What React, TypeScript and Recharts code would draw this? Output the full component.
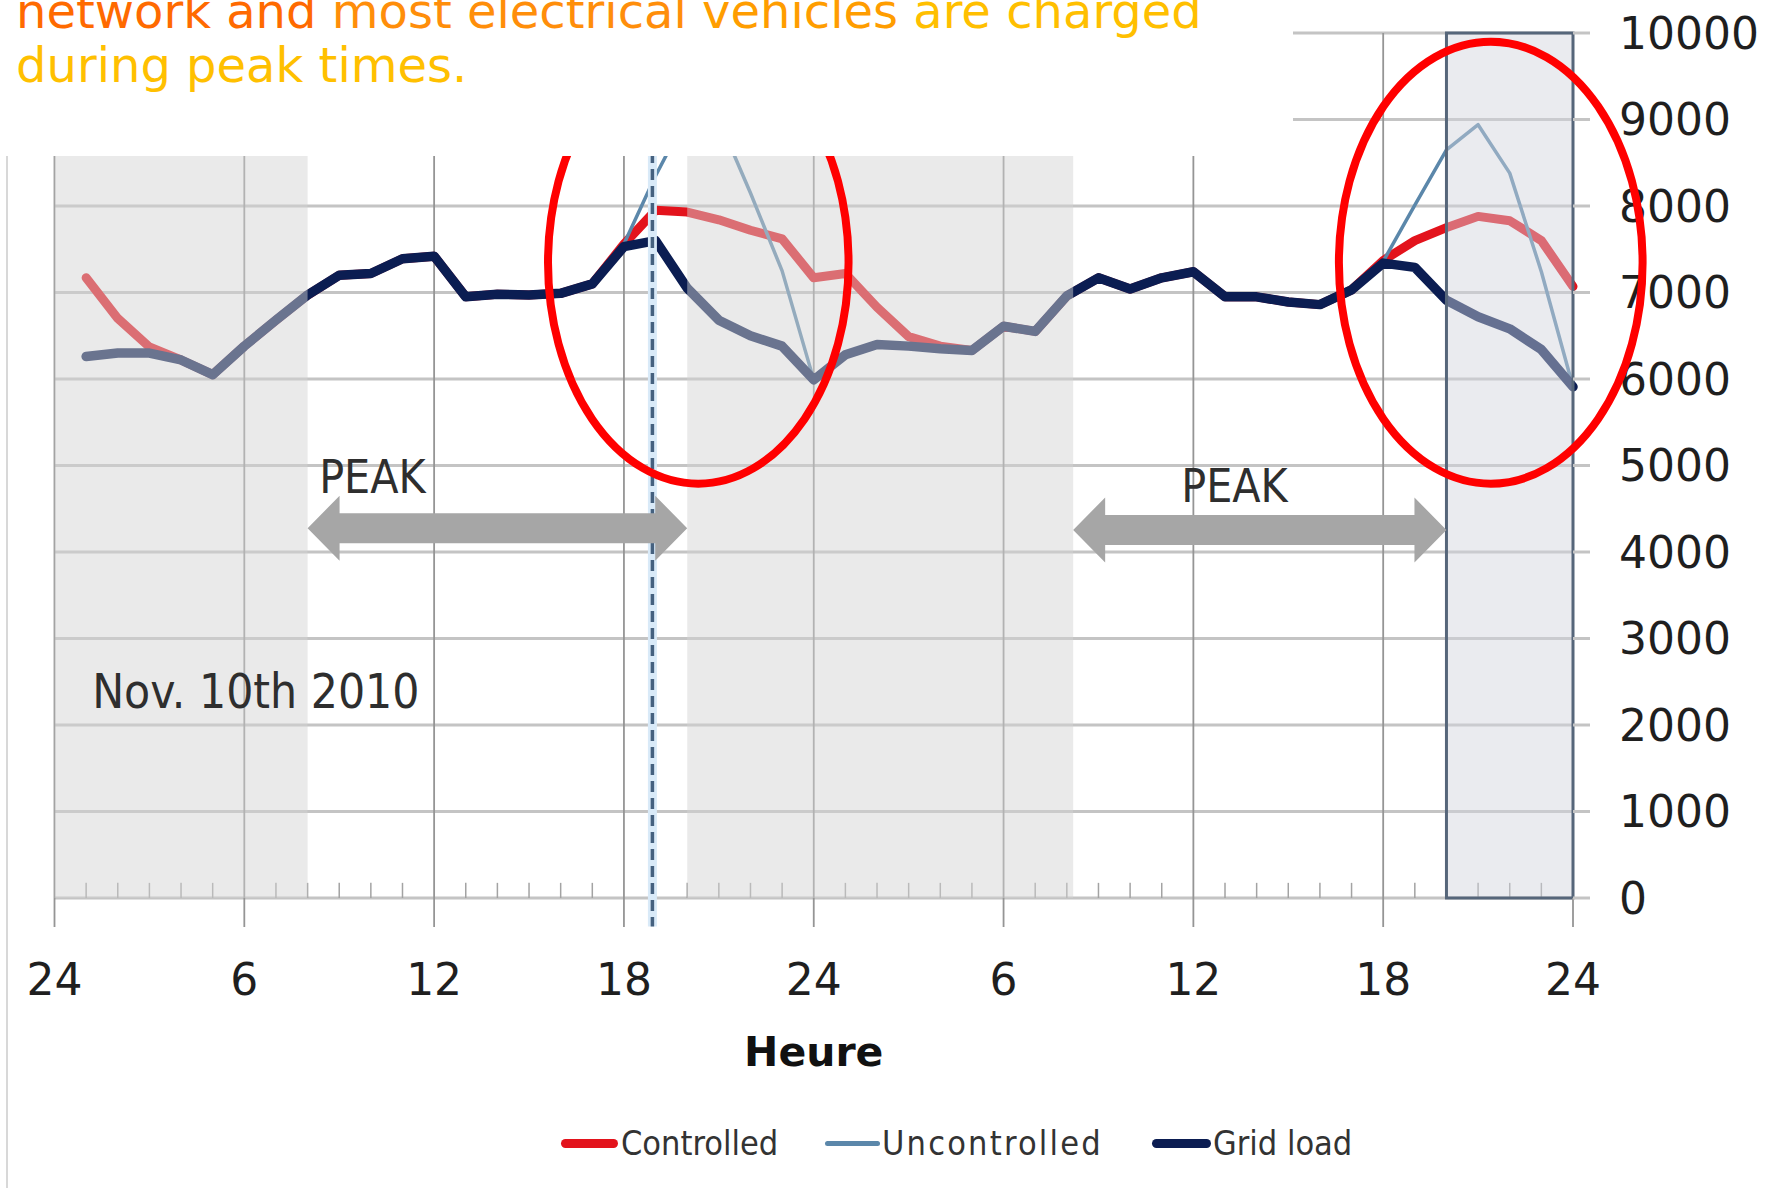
import React from 'react';
import {
  LineChart,
  Line,
  XAxis,
  YAxis,
  CartesianGrid,
  ReferenceArea,
  ReferenceLine,
  ReferenceDot,
} from 'recharts';

// ---------- data ----------
const hours = [
  1, 2, 3, 4, 5, 6, 7, 8, 9, 10, 11, 12, 13, 14, 15, 16, 17, 18, 19, 20, 21, 22, 23, 24,
  25, 26, 27, 28, 29, 30, 31, 32, 33, 34, 35, 36, 37, 38, 39, 40, 41, 42, 43, 44, 45, 46, 47, 48,
];
const gridLoad = [
  6260, 6300, 6300, 6220, 6050, 6380, 6680, 6970, 7200, 7220, 7390, 7420, 6950, 6980, 6970, 6990,
  7100, 7530, 7600, 7050, 6680, 6500, 6380, 5990, 6280, 6400, 6380, 6350, 6330, 6610, 6550, 6960,
  7170, 7040, 7170, 7240, 6950, 6950, 6890, 6860, 7030, 7340, 7290, 6910, 6720, 6580, 6340, 5910,
];
const controlled = [
  7170, 6700, 6370, 6220, 6050, 6380, 6680, 6970, 7200, 7220, 7390, 7420, 6950, 6980, 6970, 6990,
  7100, 7560, 7950, 7930, 7840, 7720, 7620, 7170, 7220, 6830, 6490, 6380, 6330, 6610, 6550, 6960,
  7170, 7040, 7170, 7240, 6950, 6950, 6890, 6860, 7030, 7370, 7600, 7750, 7880, 7830, 7600, 7070,
];
const uncontrolled = [
  6260, 6300, 6300, 6220, 6050, 6380, 6680, 6970, 7200, 7220, 7390, 7420, 6950, 6980, 6970, 6990,
  7100, 7560, 8350, 9050, 9000, 8150, 7250, 5990, 6280, 6400, 6380, 6350, 6330, 6610, 6550, 6960,
  7170, 7040, 7170, 7240, 6950, 6950, 6890, 6860, 7030, 7360, 8010, 8650, 8940, 8380, 7240, 5910,
];

const xTickValues = [0, 6, 12, 18, 24, 30, 36, 42, 48];
const xTickLabels = ['24', '6', '12', '18', '24', '6', '12', '18', '24'];
const yTicks = [0, 1000, 2000, 3000, 4000, 5000, 6000, 7000, 8000, 9000, 10000];
const minorTicks = hours.filter((h) => h % 6 !== 0);

const seriesNames = ['Controlled', 'Uncontrolled', 'Grid load'];
const seriesColors = ['#e3131c', '#5b87aa', '#0b1d52'];

const offPeakZones = [
  [0, 8],
  [20, 32.2],
];
const boxedZone = [44, 48];
const peakArrows = [
  { from: 8, to: 20, yLow: 3900, yHigh: 4650, labelX: 10.05, labelY: 4682 },
  { from: 32.2, to: 44, yLow: 3880, yHigh: 4630, labelX: 37.3, labelY: 4578 },
];
const ellipses = [
  { x1: 15.6, x2: 25.1, y1: 4790, y2: 9900 },
  { x1: 40.6, x2: 50.2, y1: 4790, y2: 9900 },
];
const peakHour = 18.9;
const dateLabel = 'Nov. 10th 2010';
const titleLine1 = [
  { t: 'network and ', c: '#ff6a00' },
  { t: 'most electrical ', c: '#ff8e0a' },
  { t: 'vehicles ', c: '#ff9d00' },
  { t: 'are charged', c: '#ffbf00' },
];
const titleLine2 = 'during peak times.';

const data = hours.map((h, i) => ({
  hour: h,
  controlled: controlled[i],
  uncontrolled: uncontrolled[i],
  grid: gridLoad[i],
}));

// ---------- shapes ----------
const ArrowShape = (props: any) => {
  const { x, y, width, height } = props;
  const cy = y + height / 2;
  const hl = 32;
  const sh = 15;
  const pts = [
    [x, cy],
    [x + hl, y],
    [x + hl, cy - sh],
    [x + width - hl, cy - sh],
    [x + width - hl, y],
    [x + width, cy],
    [x + width - hl, y + height],
    [x + width - hl, cy + sh],
    [x + hl, cy + sh],
    [x + hl, y + height],
  ]
    .map((p) => p.join(','))
    .join(' ');
  return <polygon points={pts} fill="#a6a6a6" />;
};

const EllipseShape = (props: any) => {
  const { x, y, width, height } = props;
  return (
    <ellipse
      cx={x + width / 2}
      cy={y + height / 2}
      rx={width / 2}
      ry={height / 2}
      fill="none"
      stroke="#ff0000"
      strokeWidth={8}
    />
  );
};

const makeTextShape = (text: string, anchor: string, size: number) => (props: any) => (
  <text
    x={props.cx}
    y={props.cy}
    textAnchor={anchor}
    fontFamily="'DejaVu Sans Condensed', 'DejaVu Sans', sans-serif"
    fontStretch="condensed"
    fontSize={size}
    fill="#2e2e2e"
  >
    {text}
  </text>
);

const fontAxis = "'DejaVu Sans', Verdana, sans-serif";

export default function App() {
  return (
    <div style={{ position: 'absolute', left: 0, top: 0, width: 1778, height: 1188, background: '#fff', overflow: 'hidden' }}>
      <LineChart
        width={1778}
        height={1188}
        data={data}
        margin={{ top: 33, left: 54.5, right: 0, bottom: 120 }}
      >
        <CartesianGrid
          stroke="#c4c4c4"
          strokeWidth={3}
          horizontalValues={yTicks}
          verticalValues={xTickValues}
          vertical={false}
        />
        <CartesianGrid
          stroke="#959595"
          strokeWidth={1.8}
          horizontal={false}
          verticalValues={xTickValues}
        />
        <XAxis
          dataKey="hour"
          type="number"
          domain={[0, 48]}
          ticks={xTickValues}
          tickFormatter={(v: number) => xTickLabels[xTickValues.indexOf(v)]}
          interval={0}
          axisLine={false}
          tickLine={{ stroke: '#959595', strokeWidth: 1.8 }}
          tickSize={29}
          tickMargin={37}
          height={170}
          tick={{ fontFamily: fontAxis, fontSize: 44, fill: '#1f1f1f' }}
          label={{
            value: 'Heure',
            position: 'insideBottom',
            offset: 2,
            style: { fontFamily: fontAxis, fontSize: 41, fontWeight: 'bold', fill: '#111' },
          }}
        />
        <YAxis
          orientation="right"
          type="number"
          domain={[0, 10000]}
          ticks={yTicks}
          interval={0}
          width={205}
          axisLine={false}
          tickLine={{ stroke: '#c4c4c4', strokeWidth: 3 }}
          tickSize={17}
          tickMargin={29}
          tick={{ fontFamily: fontAxis, fontSize: 44, fill: '#1f1f1f', textAnchor: 'start' }}
        />

        {minorTicks.map((h) => (
          <ReferenceLine
            key={'m' + h}
            segment={[
              { x: h, y: 0 },
              { x: h, y: 175 },
            ]}
            stroke="#a3a3a3"
            strokeWidth={1.5}
            zIndex={300}
          />
        ))}

        <Line
          type="linear"
          dataKey="controlled"
          name={seriesNames[0]}
          stroke={seriesColors[0]}
          strokeWidth={9}
          dot={false}
          isAnimationActive={false}
          strokeLinejoin="round"
          strokeLinecap="round"
        />
        <Line
          type="linear"
          dataKey="uncontrolled"
          name={seriesNames[1]}
          stroke={seriesColors[1]}
          strokeWidth={3.5}
          dot={false}
          isAnimationActive={false}
          strokeLinejoin="round"
        />
        <Line
          type="linear"
          dataKey="grid"
          name={seriesNames[2]}
          stroke={seriesColors[2]}
          strokeWidth={9.5}
          dot={false}
          isAnimationActive={false}
          strokeLinejoin="round"
          strokeLinecap="round"
        />

        {offPeakZones.map(([a, b]) => (
          <ReferenceArea
            key={'z' + a}
            x1={a}
            x2={b}
            y1={0}
            y2={10000}
            fill="#d4d4d4"
            fillOpacity={0.48}
            stroke="none"
            zIndex={450}
          />
        ))}
        <ReferenceArea
          x1={boxedZone[0]}
          x2={boxedZone[1]}
          y1={0}
          y2={10000}
          fill="#d2d4dc"
          fillOpacity={0.46}
          stroke="#56667a"
          strokeWidth={3}
          zIndex={450}
        />

        <ReferenceLine
          segment={[
            { x: peakHour, y: 10000 },
            { x: peakHour, y: -330 },
          ]}
          ifOverflow="visible"
          stroke="#d9eaf8"
          strokeWidth={9}
          zIndex={455}
        />
        <ReferenceLine
          segment={[
            { x: peakHour, y: 10000 },
            { x: peakHour, y: -330 },
          ]}
          ifOverflow="visible"
          stroke="#45617f"
          strokeWidth={3.5}
          strokeDasharray="11 6"
          zIndex={456}
        />

        {peakArrows.map((a) => (
          <ReferenceArea
            key={'a' + a.from}
            x1={a.from}
            x2={a.to}
            y1={a.yLow}
            y2={a.yHigh}
            shape={ArrowShape}
            zIndex={460}
          />
        ))}
        {peakArrows.map((a) => (
          <ReferenceDot
            key={'t' + a.from}
            x={a.labelX}
            y={a.labelY}
            r={0}
            shape={makeTextShape('PEAK', 'middle', 46)}
            zIndex={460}
          />
        ))}
        <ReferenceDot x={1.19} y={2197} r={0} shape={makeTextShape(dateLabel, 'start', 47.5)} zIndex={460} />

        {ellipses.map((e) => (
          <ReferenceArea
            key={'e' + e.x1}
            x1={e.x1}
            x2={e.x2}
            y1={e.y1}
            y2={e.y2}
            ifOverflow="visible"
            shape={EllipseShape}
            zIndex={2100}
          />
        ))}
      </LineChart>

      {/* chart frame left edge */}
      <div style={{ position: 'absolute', left: 6, top: 155, width: 2, height: 1040, background: '#d8d8d8' }} />

      {/* slide text box */}
      <div style={{ position: 'absolute', left: 0, top: 0, width: 1293, height: 156, background: '#fff' }}>
        <svg width={1293} height={156}>
          <text x={16} y={28} fontFamily="'DejaVu Sans', Verdana, sans-serif" fontSize={48}>
            {titleLine1.map((s, i) => (
              <tspan key={i} fill={s.c}>
                {s.t}
              </tspan>
            ))}
          </text>
          <text x={16} y={82} fontFamily="'DejaVu Sans', Verdana, sans-serif" fontSize={48} fill="#ffc000">
            {titleLine2}
          </text>
        </svg>
      </div>

      {/* legend */}
      {[
        { sx: 561, sw: 57, th: 9, tx: 621, ls: 0 },
        { sx: 825, sw: 55, th: 5, tx: 882, ls: 2.2 },
        { sx: 1152, sw: 59, th: 9, tx: 1213, ls: 0 },
      ].map((p, i) => (
        <React.Fragment key={i}>
          <div
            style={{
              position: 'absolute',
              left: p.sx,
              top: 1143 - p.th / 2,
              width: p.sw,
              height: p.th,
              borderRadius: p.th / 2,
              background: seriesColors[i],
            }}
          />
          <div
            style={{
              position: 'absolute',
              left: p.tx,
              top: 1123,
              height: 40,
              lineHeight: '40px',
              fontFamily: "'DejaVu Sans Condensed', 'DejaVu Sans', sans-serif",
              fontStretch: 'condensed',
              fontSize: 34,
              letterSpacing: p.ls,
              color: '#333',
              whiteSpace: 'nowrap',
            }}
          >
            {seriesNames[i]}
          </div>
        </React.Fragment>
      ))}
    </div>
  );
}
